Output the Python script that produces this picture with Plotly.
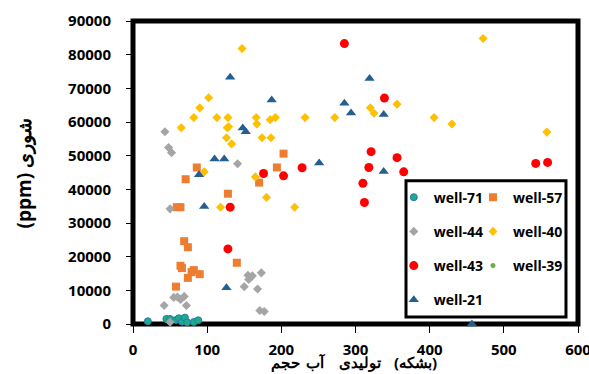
import plotly.graph_objects as go

# ---- data ----
well_71_x = [20, 45, 50, 58, 62, 66, 70, 73, 82, 88]
well_71_y = [800, 1500, 1500, 1200, 1700, 700, 1900, 500, 600, 1100]

well_57_x = [203, 194, 86, 71, 170, 128, 59, 64, 69, 74, 140, 64, 66, 82, 79, 90, 74, 58]
well_57_y = [50600, 46500, 46500, 43000, 42000, 38700, 34700, 34700, 24600, 22800,
             18200, 17300, 16600, 16000, 15400, 14800, 13700, 11100]

well_44_x = [43, 48, 52, 141, 50, 155, 158, 161, 156, 173, 150, 168, 171, 177, 55, 60, 64, 69, 42, 72, 50]
well_44_y = [57100, 52400, 50900, 47600, 34200, 14500, 13800, 14300, 13200, 15200, 11100,
             10400, 4000, 3700, 7900, 8000, 7300, 8200, 5500, 5500, 500]

well_40_x = [147, 472, 102, 90, 82, 65, 113, 128, 127, 129, 126, 133, 166, 167, 174, 186,
             185, 192, 232, 272, 320, 325, 356, 406, 430, 558, 96, 165, 118, 180, 218]
well_40_y = [81800, 84800, 67200, 64200, 61300, 58300, 61300, 61300, 58300, 58600, 55300,
             53500, 61300, 59400, 55300, 55300, 60700, 61300, 61300, 61300, 64200, 62600,
             65300, 61300, 59400, 57000, 45200, 43700, 34700, 37600, 34700]

well_43_x = [285, 339, 321, 356, 318, 365, 228, 176, 203, 543, 559, 310, 312, 131, 128]
well_43_y = [83300, 67100, 51200, 49400, 46500, 45200, 46400, 44700, 44000, 47700, 48000,
             41800, 36100, 34700, 22300]

well_39_x = [None]
well_39_y = [None]

well_21_x = [131, 319, 187, 285, 294, 338, 148, 152, 110, 123, 251, 338, 89, 96, 126, 457]
well_21_y = [73300, 72900, 66500, 65600, 62700, 62200, 58200, 57100, 49000, 49000, 47800,
             45300, 44300, 34900, 10800, 0]

x_ticks = [0, 100, 200, 300, 400, 500, 600]
y_ticks = [0, 10000, 20000, 30000, 40000, 50000, 60000, 70000, 80000, 90000]

# x-axis title words, in the left-to-right order they appear in the picture
x_title_words = ["حجم", "آب", "تولیدی", "(بشکه)"]
y_title = "(ppm) شوری"

FONT = "Open Sans"

series = [
    ("well-71", well_71_x, well_71_y, dict(symbol="circle", size=7, color="#1BAE84",
                                           line=dict(color="#2E75B6", width=1)), "legend"),
    ("well-57", well_57_x, well_57_y, dict(symbol="square", size=8, color="#ED7D31"), "legend2"),
    ("well-44", well_44_x, well_44_y, dict(symbol="diamond", size=7, color="#A5A5A5"), "legend"),
    ("well-40", well_40_x, well_40_y, dict(symbol="diamond", size=7, color="#FFC000"), "legend2"),
    ("well-43", well_43_x, well_43_y, dict(symbol="circle", size=9, color="#FF0000"), "legend"),
    ("well-39", well_39_x, well_39_y, dict(symbol="circle", size=5, color="#70AD47"), "legend2"),
    ("well-21", well_21_x, well_21_y, dict(symbol="triangle-up", size=9, color="#255E91"), "legend"),
]

fig = go.Figure()
for name, xs, ys, mk, lg in series:
    fig.add_trace(go.Scatter(x=xs, y=ys, mode="markers", name=name, marker=mk,
                             legend=lg, legendgroup=name, cliponaxis=False))

legend_font = dict(family=FONT, size=14, color="black", weight="bold")
common_legend = dict(bgcolor="rgba(0,0,0,0)", borderwidth=0, font=legend_font,
                     traceorder="grouped", tracegroupgap=13, yanchor="top",
                     xanchor="left", itemwidth=30)

title_font = dict(family=FONT, size=15, color="black", weight="bold")
word_x = [0.343, 0.412, 0.51, 0.635]
annotations = [
    dict(text=w, xref="paper", yref="paper", x=xp, y=-0.127, xanchor="center",
         yanchor="middle", showarrow=False, font=title_font)
    for w, xp in zip(x_title_words, word_x)
]
annotations.append(
    dict(text=y_title, textangle=-90, xref="paper", yref="paper", x=-0.245, y=0.5,
         xanchor="center", yanchor="middle", showarrow=False,
         font=dict(family=FONT, size=19, color="black", weight="bold")))

fig.update_layout(
    width=589, height=374,
    margin=dict(l=133, r=11, t=21, b=50, autoexpand=False),
    paper_bgcolor="white", plot_bgcolor="white",
    showlegend=True,
    legend=dict(x=0.586, y=0.47, **common_legend),
    legend2=dict(x=0.764, y=0.47, **common_legend),
    xaxis=dict(range=[0, 600], tickvals=x_ticks, showgrid=False, zeroline=False,
               showline=False, ticks="outside", ticklen=8, tickcolor="black",
               ticklabelstandoff=4, automargin=False, ticklabeloverflow="allow",
               tickfont=dict(family=FONT, size=15, color="black", weight="bold")),
    yaxis=dict(range=[0, 90000], tickvals=y_ticks, tickformat="d", showgrid=False,
               zeroline=False, showline=False, ticks="outside", ticklen=6,
               tickcolor="black", ticklabelstandoff=12, automargin=False,
               ticklabeloverflow="allow",
               tickfont=dict(family=FONT, size=15, color="black", weight="bold")),
    shapes=[
        dict(type="rect", xref="paper", yref="paper", x0=0, x1=1, y0=0, y1=1,
             line=dict(color="black", width=5), layer="below"),
        dict(type="rect", xref="paper", yref="paper", x0=0.6135, x1=0.973, y0=0.0231, y1=0.473,
             line=dict(color="black", width=3), fillcolor="white", layer="below"),
    ],
    annotations=annotations,
)

fig.write_html("out.html", config={"displayModeBar": False},
               post_script="document.body.style.margin='0';document.body.style.padding='0';")
